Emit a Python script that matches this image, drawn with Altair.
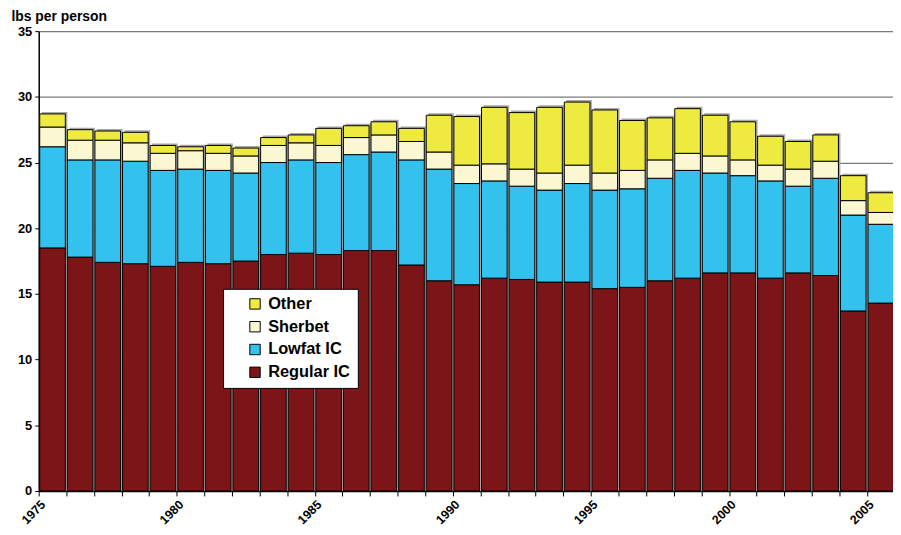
import altair as alt
import pandas as pd

years = list(range(1975, 2006))
regular = [18.5, 17.8, 17.4, 17.3, 17.1, 17.4, 17.3, 17.5, 18.0, 18.1,
           18.0, 18.3, 18.3, 17.2, 16.0, 15.7, 16.2, 16.1, 15.9, 15.9,
           15.4, 15.5, 16.0, 16.2, 16.6, 16.6, 16.2, 16.6, 16.4, 13.7, 14.3]
lowfat = [7.7, 7.4, 7.8, 7.8, 7.3, 7.1, 7.1, 6.7, 7.0, 7.1,
          7.0, 7.3, 7.5, 8.0, 8.5, 7.7, 7.4, 7.1, 7.0, 7.5,
          7.5, 7.5, 7.8, 8.2, 7.6, 7.4, 7.4, 6.6, 7.4, 7.3, 6.0]
sherbet = [1.5, 1.5, 1.5, 1.4, 1.3, 1.4, 1.3, 1.3, 1.3, 1.3,
           1.3, 1.3, 1.3, 1.4, 1.3, 1.4, 1.3, 1.3, 1.3, 1.4,
           1.3, 1.4, 1.4, 1.3, 1.3, 1.2, 1.2, 1.3, 1.3, 1.1, 0.9]
other = [1.0, 0.8, 0.7, 0.8, 0.6, 0.3, 0.6, 0.6, 0.6, 0.6,
         1.3, 0.9, 1.0, 1.0, 2.8, 3.7, 4.3, 4.3, 5.0, 4.8,
         4.8, 3.8, 3.2, 3.4, 3.1, 2.9, 2.2, 2.1, 2.0, 1.9, 1.5]

series_names = ["Regular IC", "Lowfat IC", "Sherbet", "Other"]
series_vals = [regular, lowfat, sherbet, other]
legend_order = ["Other", "Sherbet", "Lowfat IC", "Regular IC"]
colors = ["#EEEA3F", "#FBF7D0", "#33C1EE", "#7B1517"]

rows = []
totals = []
for i, yr in enumerate(years):
    base = 0.0
    for name, vals in zip(series_names, series_vals):
        rows.append({"year": yr, "year_end": yr + 1, "series": name,
                     "y0": base, "y1": base + vals[i]})
        base += vals[i]
    totals.append({"year": yr, "year_end": yr + 1, "y0": 0.0, "y1": base})
df = pd.DataFrame(rows)
dt = pd.DataFrame(totals)

FONT = "Liberation Sans"

xscale = alt.Scale(domain=[1975, 2005.94], nice=False, zero=False)
yscale = alt.Scale(domain=[0, 35], nice=False)

xaxis = alt.Axis(values=years, labelExpr="datum.value % 5 == 0 ? datum.value : ''",
                 labelAngle=-45, labelFont=FONT, labelFontSize=12.5, labelFontWeight="bold",
                 labelColor="black", labelFlush=False, labelOverlap=False, labelPadding=2,
                 tickColor="black", tickSize=5, domainColor="black", domainWidth=1.5,
                 grid=False, title=None)
yaxis = alt.Axis(values=[0, 5, 10, 15, 20, 25, 30, 35], labelFont=FONT, labelFontSize=13,
                 labelFontWeight="bold", labelColor="black", labelPadding=3,
                 tickColor="black", tickSize=4, domainColor="black", domainWidth=1.5,
                 grid=True, gridColor="#7a7a7a", gridWidth=1.2,
                 title="lbs per person", titleAngle=0, titleAlign="left",
                 titleBaseline="alphabetic", titleX=-28, titleY=-11,
                 titleFont=FONT, titleFontSize=14, titleFontWeight="bold", titleColor="black")

shadow = alt.Chart(dt).mark_bar(color="#a8a8a8", xOffset=3, x2Offset=1, yOffset=-2,
                                clip=True).encode(
    x=alt.X("year:Q", scale=xscale, axis=xaxis),
    x2="year_end:Q",
    y=alt.Y("y1:Q", scale=yscale, axis=yaxis),
    y2="y0:Q",
)

bars = alt.Chart(df).mark_bar(stroke="black", strokeWidth=1, xOffset=1, x2Offset=-1,
                              clip=True).encode(
    x=alt.X("year:Q", scale=xscale, axis=xaxis),
    x2="year_end:Q",
    y=alt.Y("y1:Q", scale=yscale, axis=yaxis),
    y2="y0:Q",
    color=alt.Color("series:N", scale=alt.Scale(domain=legend_order, range=colors),
                    legend=alt.Legend(title=None, orient="none", legendX=186, legendY=260,
                                      fillColor="white", strokeColor="black", padding=7,
                                      symbolType="square", symbolSize=110,
                                      symbolStrokeColor="black", symbolStrokeWidth=1,
                                      symbolOffset=17, labelOffset=5, rowPadding=6,
                                      labelFont=FONT, labelFontSize=16.5,
                                      labelFontWeight="bold", labelColor="black")),
)

chart = alt.layer(shadow, bars).properties(
    width=862, height=464,
    padding={"left": 31, "top": 21, "right": 0, "bottom": 34},
    autosize=alt.AutoSizeParams(type="none"),
).configure_view(stroke=None)

chart.save("out.html", embed_options={"renderer": "svg", "actions": False})
